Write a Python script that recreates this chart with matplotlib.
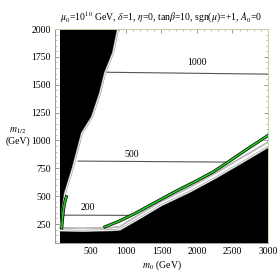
import numpy as np
import matplotlib
matplotlib.use("Agg")
import matplotlib.pyplot as plt
from matplotlib.ticker import MultipleLocator

plt.rcParams['font.family'] = ['Liberation Serif', 'DejaVu Serif']
plt.rcParams['mathtext.fontset'] = 'stix'

# --- data ---
# left excluded (black) region boundary
left_m12 = [2000, 1785, 1605, 1425, 1210, 1066, 761, 528, 375, 280, 230]
left_m0 = [887, 817, 704, 634, 521, 380, 254, 141, 105, 92, 80]
# lower excluded (black) region boundary
low_m0 = [70, 400, 800, 915, 1200, 1503, 1900, 2254, 2600, 3000]
low_m12 = [192, 188, 195, 200, 305, 420, 540, 662, 790, 941]
# thin line just above the lower black region
edge_m0 = [70, 400, 800, 915, 1200, 1503, 1900, 2254, 2600, 3000]
edge_m12 = [215, 212, 218, 228, 340, 455, 580, 705, 835, 985]
# relic density (green) strips
green_m0 = [704, 900, 1127, 1400, 1690, 2000, 2230, 2437, 2700, 3000]
green_m12 = [225, 275, 345, 440, 540, 640, 719, 806, 920, 1045]
green_left_m0 = [95, 105, 118, 135, 160]
green_left_m12 = [215, 290, 370, 440, 495]
# labelled contours
c1000_m0 = [732, 3000]
c1000_m12 = [1612, 1595]
c500_m0 = [324, 2437]
c500_m12 = [815, 806]
c200_m0 = [99, 1085]
c200_m12 = [330, 328]
contour_labels = ["1000", "500", "200"]
label_m0 = [2000, 1085, 460]
label_m12 = [1700, 875, 395]

xticks = [500, 1000, 1500, 2000, 2500, 3000]
yticks = [250, 500, 750, 1000, 1250, 1500, 1750, 2000]

fig = plt.figure(figsize=(2.8, 2.8), dpi=100)
ax = fig.add_axes([0.1964, 0.1321, 0.7607, 0.7643])
ax.set_xlim(0, 3000)
ax.set_ylim(80, 2000)

# black regions
lx = [70] + left_m0 + [70]
ly = [2000] + left_m12 + [left_m12[-1]]
ax.fill(lx, ly, color='black', lw=0, zorder=2)
bx = [low_m0[0]] + low_m0 + [3000, low_m0[0]]
by = [80] + low_m12 + [80, 80]
ax.fill(bx, by, color='black', lw=0, zorder=2)

# boundary outlines (gray with white core)
for xs, ys in [(left_m0, left_m12), (low_m0, low_m12)]:
    ax.plot(xs, ys, color='#9a9a9a', lw=1.5, zorder=3, solid_capstyle='butt')
    ax.plot(xs, ys, color='white', lw=0.6, zorder=4)

ax.plot(edge_m0, edge_m12, color='#808080', lw=1.0, zorder=3)
ax.plot(edge_m0, edge_m12, color='white', lw=0.35, zorder=4)

# contours
for xs, ys in [(c1000_m0, c1000_m12), (c500_m0, c500_m12), (c200_m0, c200_m12)]:
    ax.plot(xs, ys, color='#555555', lw=0.8, zorder=5)
for t, x, y in zip(contour_labels, label_m0, label_m12):
    ax.text(x, y, t, fontsize=7, ha='center', va='center', zorder=6)

# green relic strips
for xs, ys in [(green_m0, green_m12), (green_left_m0, green_left_m12)]:
    ax.plot(xs, ys, color='black', lw=2.2, zorder=6)
    ax.plot(xs, ys, color='#22cc22', lw=1.2, zorder=7)

# ticks / frame
ax.set_xticks(xticks)
ax.set_yticks(yticks)
ax.xaxis.set_minor_locator(MultipleLocator(100))
ax.yaxis.set_minor_locator(MultipleLocator(50))
ax.tick_params(which='both', direction='in', top=True, right=True,
               color='#888888', labelsize=7, pad=3)
ax.tick_params(which='major', length=3, width=0.6)
ax.tick_params(which='minor', length=1.5, width=0.4)
for s in ax.spines.values():
    s.set_color('#999999')
    s.set_linewidth(0.7)
ax.spines['right'].set_color('#b8d8a8')
ax.spines['top'].set_color('#c8c8a0')

ax.set_title(r"$\mu_0$=10$^{10}$ GeV, $\delta$=1, $\eta$=0, tan$\beta$=10, sgn($\mu$)=+1, $A_0$=0",
             fontsize=7, pad=6)
ax.set_xlabel(r"$m_0$ (GeV)", fontsize=7, labelpad=2)
fig.text(18 / 280, 1 - 136 / 280, "$m_{1/2}$\n(GeV)", fontsize=7,
         ha='center', va='center', linespacing=1.1)

fig.savefig("out.png", dpi=100)
